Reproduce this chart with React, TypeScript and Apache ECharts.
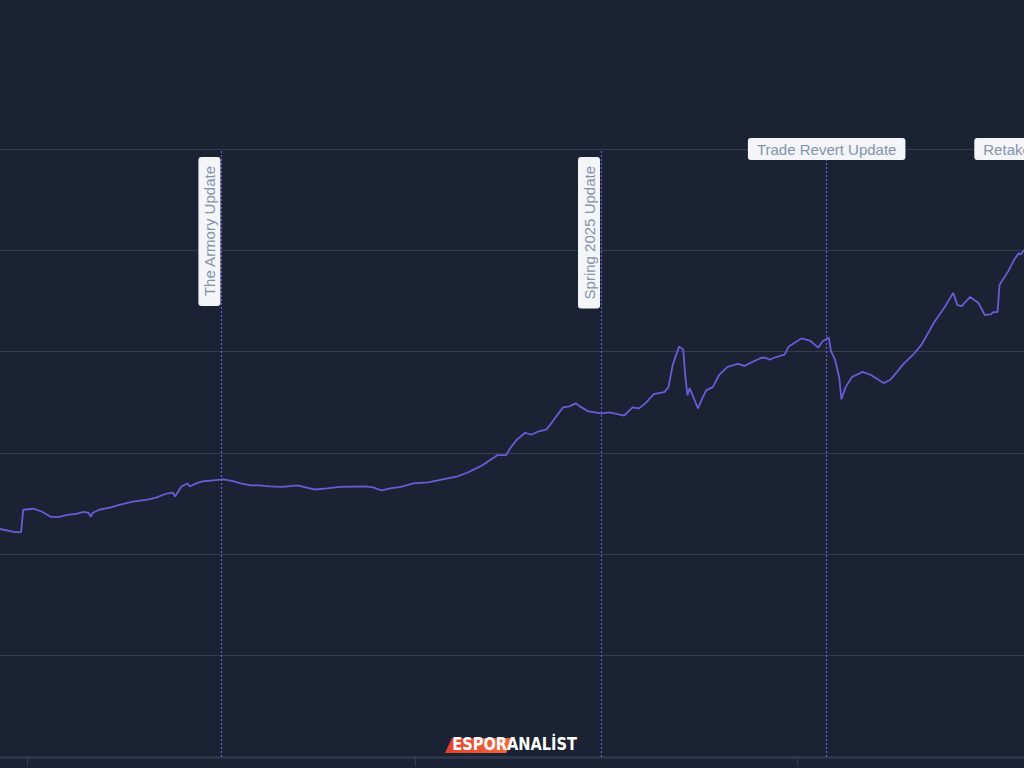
import React, { useEffect, useRef } from "react";
import * as echarts from "echarts";

// Daily index values (billions)
const dates = [
  "2024-06-18", "2024-06-23", "2024-06-25", "2024-06-28", "2024-06-29", "2024-07-04", "2024-07-08", "2024-07-12",
  "2024-07-16", "2024-07-20", "2024-07-24", "2024-07-28", "2024-07-30", "2024-07-31", "2024-08-01", "2024-08-04",
  "2024-08-09", "2024-08-14", "2024-08-20", "2024-08-27", "2024-08-31", "2024-09-05", "2024-09-08", "2024-09-09",
  "2024-09-12", "2024-09-15", "2024-09-16", "2024-09-19", "2024-09-22", "2024-09-27", "2024-10-02", "2024-10-07",
  "2024-10-10", "2024-10-15", "2024-10-19", "2024-10-24", "2024-10-30", "2024-11-06", "2024-11-10", "2024-11-14",
  "2024-11-20", "2024-11-26", "2024-12-08", "2024-12-12", "2024-12-16", "2024-12-20", "2024-12-25", "2024-12-31",
  "2025-01-07", "2025-01-14", "2025-01-21", "2025-01-26", "2025-02-01", "2025-02-04", "2025-02-09", "2025-02-13",
  "2025-02-15", "2025-02-18", "2025-02-22", "2025-02-25", "2025-02-28", "2025-03-04", "2025-03-07", "2025-03-12",
  "2025-03-15", "2025-03-18", "2025-03-20", "2025-03-24", "2025-03-30", "2025-04-03", "2025-04-10", "2025-04-14",
  "2025-04-17", "2025-04-20", "2025-04-24", "2025-04-29", "2025-05-01", "2025-05-03", "2025-05-06", "2025-05-08",
  "2025-05-09", "2025-05-10", "2025-05-11", "2025-05-15", "2025-05-17", "2025-05-19", "2025-05-22", "2025-05-25",
  "2025-05-29", "2025-06-03", "2025-06-06", "2025-06-10", "2025-06-14", "2025-06-16", "2025-06-18", "2025-06-20",
  "2025-06-25", "2025-06-27", "2025-07-03", "2025-07-07", "2025-07-11", "2025-07-13", "2025-07-16", "2025-07-17",
  "2025-07-19", "2025-07-21", "2025-07-22", "2025-07-24", "2025-07-27", "2025-08-01", "2025-08-05", "2025-08-11",
  "2025-08-14", "2025-08-17", "2025-08-20", "2025-08-25", "2025-08-29", "2025-09-04", "2025-09-09", "2025-09-13",
  "2025-09-15", "2025-09-17", "2025-09-21", "2025-09-25", "2025-09-28", "2025-10-01", "2025-10-02", "2025-10-04",
  "2025-10-05", "2025-10-09", "2025-10-12", "2025-10-14", "2025-10-15", "2025-10-17",
];

const values = [
  2.25, 2.23, 2.22, 2.22, 2.44, 2.45, 2.42, 2.37,
  2.37, 2.39, 2.40, 2.42, 2.41, 2.37, 2.41, 2.44,
  2.46, 2.49, 2.52, 2.54, 2.56, 2.60, 2.61, 2.57,
  2.67, 2.70, 2.67, 2.70, 2.72, 2.73, 2.74, 2.72,
  2.70, 2.68, 2.68, 2.67, 2.665, 2.68, 2.66, 2.64,
  2.65, 2.665, 2.67, 2.66, 2.63, 2.65, 2.665, 2.70,
  2.71, 2.74, 2.77, 2.81, 2.87, 2.91, 2.98, 2.98,
  3.05, 3.13, 3.20, 3.18, 3.21, 3.23, 3.31, 3.45,
  3.46, 3.49, 3.46, 3.41, 3.39, 3.40, 3.37, 3.45,
  3.44, 3.49, 3.58, 3.60, 3.65, 3.87, 4.05, 4.02,
  3.75, 3.57, 3.64, 3.44, 3.54, 3.62, 3.65, 3.77,
  3.85, 3.88, 3.86, 3.90, 3.94, 3.94, 3.92, 3.94,
  3.97, 4.05, 4.13, 4.11, 4.04, 4.10, 4.14, 4.01,
  3.92, 3.74, 3.53, 3.65, 3.75, 3.80, 3.77, 3.69,
  3.72, 3.79, 3.87, 3.97, 4.07, 4.29, 4.44, 4.58,
  4.46, 4.45, 4.54, 4.48, 4.36, 4.37, 4.39, 4.39,
  4.66, 4.79, 4.91, 4.97, 4.96, 5.01,
];

const eventNames = ["The Armory Update", "Spring 2025 Update", "Trade Revert Update", "Retake Update"];
const eventDates = ["2024-10-01", "2025-03-30", "2025-07-15", "2025-10-21"];
const eventVertical = [true, true, false, false];

const tickDates = ["2024-07-01", "2025-01-01", "2025-07-01"];
const axisRange = ["2024-06-18", "2025-12-03"];

const toTs = (s: string) => {
  const [y, m, d] = s.split("-").map(Number);
  return new Date(y, m - 1, d).getTime();
};

const LINE = "#6a5cd6";
const BG = "#1a2234";
const LOGO_FONT = "bold 18px 'DejaVu Sans Condensed', 'Liberation Sans Narrow', sans-serif";

export default function App() {
  const ref = useRef<HTMLDivElement>(null);

  useEffect(() => {
    if (!ref.current) return;
    const chart = echarts.init(ref.current, undefined, { renderer: "svg" });

    const baseLabel = {
      show: true,
      formatter: (p: any) => p.name,
      color: "#8592a8",
      fontSize: 15,
      lineHeight: 18,
      fontFamily: "'Liberation Sans', Arial, sans-serif",
      backgroundColor: "#f3f5f8",
      borderRadius: 3,
      padding: [2, 9, 2, 9],
    };

    const option: any = {
      animation: false,
      backgroundColor: BG,
      grid: {
        left: 0,
        top: 149,
        bottom: 11,
        width: 1124,
        containLabel: false,
        outerBoundsMode: "none",
      },
      xAxis: {
        type: "time",
        min: toTs(axisRange[0]),
        max: toTs(axisRange[1]),
        offset: 2,
        axisLine: { show: true, lineStyle: { color: "#2c3648", width: 3 } },
        axisTick: {
          show: true,
          length: 9,
          lineStyle: { color: "#343e51", width: 1 },
          customValues: tickDates.map(toTs),
        },
        axisLabel: { show: false, customValues: tickDates.map(toTs) },
        splitLine: { show: false },
      },
      yAxis: {
        type: "value",
        min: 0,
        max: 6,
        interval: 1,
        axisLabel: { show: false },
        axisLine: { show: false },
        axisTick: { show: false },
        splitLine: { show: true, lineStyle: { color: "#353e51", width: 1 } },
      },
      series: [
        {
          type: "line",
          data: dates.map((d, i) => [toTs(d), values[i]]),
          showSymbol: false,
          symbol: "none",
          lineStyle: { color: LINE, width: 1.8 },
          itemStyle: { color: LINE },
          markLine: {
            silent: true,
            symbol: ["none", "none"],
            lineStyle: { color: LINE, type: [2, 2], width: 1.2 },
            data: eventDates.map((d, i) => ({
              xAxis: toTs(d),
              name: eventNames[i],
              label: eventVertical[i]
                ? { ...baseLabel, position: "insideEndTop", distance: [8, 1] }
                : { ...baseLabel, position: "end", distance: [0, -11] },
            })),
          },
        },
      ],
      graphic: [
        {
          type: "polygon",
          shape: { points: [[445, 753], [452, 738], [513, 738], [506, 753]] },
          style: {
            fill: new echarts.graphic.LinearGradient(0, 0, 1, 0, [
              { offset: 0, color: "#e2402e" },
              { offset: 1, color: "#f56b3a" },
            ]),
          },
          z: 100,
        },
        {
          type: "text",
          x: 507,
          y: 753,
          scaleX: 0.9,
          style: {
            text: "ESPOR",
            fill: "#ffffff",
            font: LOGO_FONT,
            textAlign: "right",
            textVerticalAlign: "bottom",
          },
          z: 101,
        },
        {
          type: "text",
          x: 507,
          y: 753,
          scaleX: 0.9,
          style: {
            text: "ANALİST",
            fill: "#ffffff",
            font: LOGO_FONT,
            textAlign: "left",
            textVerticalAlign: "bottom",
          },
          z: 101,
        },
      ],
    };

    chart.setOption(option);
    return () => chart.dispose();
  }, []);

  return (
    <div
      ref={ref}
      style={{ position: "absolute", left: 0, top: 0, width: 1024, height: 768, overflow: "hidden" }}
    />
  );
}
